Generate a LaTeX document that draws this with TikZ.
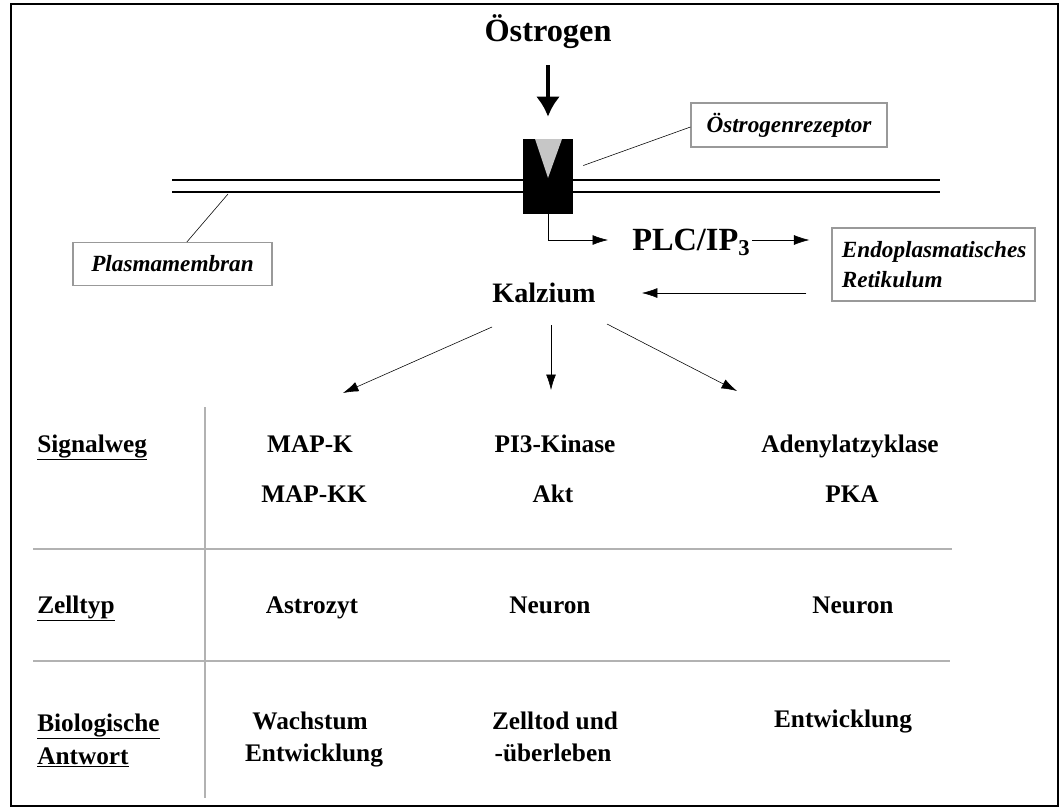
\documentclass[tikz,border=0pt]{standalone}
\usepackage{fontspec}
\setmainfont{Liberation Serif}
\usepackage{tikz}
\usetikzlibrary{arrows.meta,positioning}

\begin{document}
\begin{tikzpicture}[
    x=0.025cm, y=-0.025cm,
    big/.style={font=\bfseries\fontsize{23}{26}\selectfont, inner sep=0pt},
    cell/.style={font=\bfseries\fontsize{18}{21}\selectfont, inner sep=0pt, anchor=base},
    rowhead/.style={cell, anchor=base west},
    tag/.style={rectangle, draw=gray!80, thick, font=\bfseries\itshape\fontsize{16.5}{19}\selectfont, inner sep=0pt},
    arrow/.style={-{Latex[length=11pt,width=7pt]}, thin},
    rule/.style={draw=gray!60, line width=0.8pt}
]
    \useasboundingbox (0,0) rectangle (1062,808);
    % frame
    \draw[thick] (11,4) rectangle (1058,806);

    % membrane
    \draw[thick] (172,180) -- (940,180);
    \draw[thick] (172,192) -- (940,192);

    % estrogen and receptor
    \node[big] (oes) at (548,32) {Östrogen};
    \node[fill=black, minimum width=1.25cm, minimum height=1.875cm, inner sep=0pt] (rec) at (548,176.5) {};
    \fill[gray!45] (535,139) -- (562,139) -- (548,178) -- cycle;
    \draw[line width=2.6pt, -{Latex[length=0.5cm,width=0.6cm]}, shorten <=0.4cm, shorten >=0.55cm] (oes) -- (rec);

    \node[tag, minimum width=4.9cm, minimum height=1.1cm] (rez) at (789,125) {Östrogenrezeptor};
    \draw[thin] ([shift={(10,-11)}]rec.east) -- ([yshift=-0.05cm]rez.west);

    \node[tag, minimum width=4.975cm, minimum height=1.075cm] (pm) at (172.5,264) {Plasmamembran};
    \coordinate (memb) at (228,194);
    \draw[thin] (memb) -- ([xshift=0.36cm]pm.north);

    % PLC / ER / calcium
    \node[big, anchor=base west] (plc) at (632,250) {PLC/IP$_{\mathbf 3}$};
    \coordinate (plcin) at (608,240);
    \coordinate (plcout) at (752,240);
    \draw[arrow] (rec.south) |- (plcin);

    \node[tag, minimum width=5.075cm, minimum height=1.825cm, text width=4.575cm, inner xsep=0.25cm, align=left] (er) at (933.5,264.5) {Endoplasmatisches\\[2pt]Retikulum};
    \draw[arrow] (plcout) -- (plcout -| er.west) [shorten >=0.55cm];

    \node[cell, font=\bfseries\fontsize{20}{22}\selectfont, anchor=center] (kal) at (544,293) {Kalzium};
    \draw[arrow, shorten <=0.625cm, shorten >=1.15cm] (er.west |- kal) -- (kal.east);

    \coordinate (k1) at (492,327);
    \coordinate (k2) at (551,325);
    \coordinate (k3) at (607,324);
    \coordinate (s1) at (343,393);
    \coordinate (s2) at (551,390);
    \coordinate (s3) at (737,391);
    \draw[arrow] (k1) -- (s1);
    \draw[arrow] (k2) -- (s2);
    \draw[arrow] (k3) -- (s3);

    % table
    \draw[rule] (205,407) -- (205,798);
    \draw[rule] (33,549) -- (952,549);
    \draw[rule] (33,661) -- (950,661);

    \node[rowhead] (hsig) at (37,452) {\underline{Signalweg}};
    \node[rowhead] (hzell) at (37,613) {\underline{Zelltyp}};
    \node[rowhead] (hbio) at (37,731) {\underline{Biologische}};
    \node[rowhead] (hant) at (37,764) {\underline{Antwort}};

    \node[cell] (mapk) at (310,452) {MAP-K};
    \node[cell] (mapkk) at (314,502) {MAP-KK};
    \node[cell] (pik) at (555,452) {PI3-Kinase};
    \node[cell] (akt) at (553,502) {Akt};
    \node[cell] (adc) at (850,452) {Adenylatzyklase};
    \node[cell] (pka) at (852,502) {PKA};

    \node[cell] (astro) at (312,613) {Astrozyt};
    \node[cell] (neur1) at (550,613) {Neuron};
    \node[cell] (neur2) at (853,613) {Neuron};

    \node[cell] (wachs) at (310,729) {Wachstum};
    \node[cell] (entw1) at (314,761) {Entwicklung};
    \node[cell] (tod) at (555,729) {Zelltod und};
    \node[cell] (ueber) at (553,761) {-überleben};
    \node[cell] (entw2) at (843,727) {Entwicklung};
\end{tikzpicture}
\end{document}
